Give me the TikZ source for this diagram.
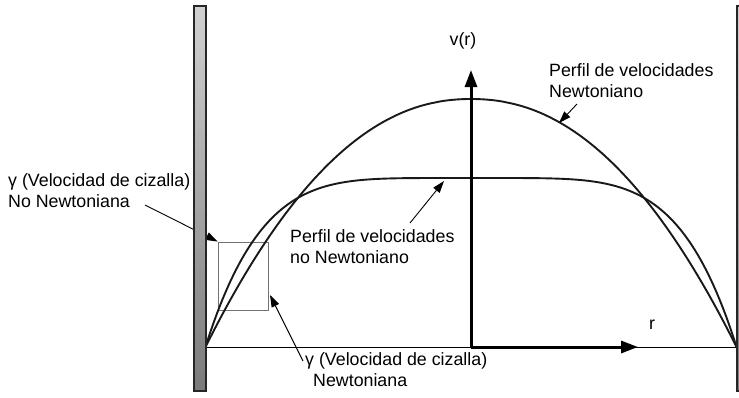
\documentclass[tikz,border=0pt]{standalone}
\usepackage{fontspec}
\setmainfont{Liberation Sans}
\usetikzlibrary{arrows.meta}
\begin{document}
\begin{tikzpicture}[x=1pt,y=-1pt,
  lbl/.style={font=\fontsize{17.8}{21}\selectfont, inner sep=0pt, align=left},
  curve/.style={line width=1.9pt, black!90},
  axis/.style={line width=3pt, -{Triangle[length=17pt,width=12pt]}},
  leader/.style={line width=0.9pt, -{Triangle[length=12pt,width=8pt]}},
  wallbox/.style={draw=black!85, line width=2pt, top color=black!18, bottom color=black!52}]
\useasboundingbox (0,0) rectangle (739,397);
\clip (0,0) rectangle (739,397);
% coordinates
\coordinate (L) at (206,347);
\coordinate (R) at (737,347);
\coordinate (O) at (471,347);
\coordinate (Vtip) at (471,70);
\coordinate (Rtip) at (638,347);
% baseline
\draw[line width=0.9pt] (L) -- (R);
% slope box
\node[draw=black!55, line width=1.3pt, minimum width=50pt, minimum height=68pt, inner sep=0pt] (box) at (243.3,276.2) {};
% curves
\draw[curve] plot[domain=-1:1, samples=121, smooth] ({471+265.5*\x}, {347-248*(1-abs(\x)^2.15)});
\draw[curve] plot[domain=-1:1, samples=161, smooth] ({471+265.5*\x}, {347-169*(1-abs(\x)^5)});
% axes
\draw[axis] (O) -- (Vtip);
\draw[axis] (O) -- (Rtip);
\node[lbl] (vr) at (463,41) {v(r)};
\node[lbl] (rl) at (652,325) {r};
% labels
\node[lbl, anchor=west] (gnn) at (8,191) {γ (Velocidad de cizalla)\\No Newtoniana};
\node[lbl, anchor=west] (gn) at (305,370) {γ (Velocidad de cizalla)\\\hspace*{8pt}Newtoniana};
\node[lbl, anchor=west] (pnn) at (290,247) {Perfil de velocidades\\no Newtoniano};
\node[lbl, anchor=west] (pn) at (549,81) {Perfil de velocidades\\Newtoniano};
% leaders
\coordinate (a1s) at (145,205);
\draw[leader] (a1s) -- (box.north west);
\coordinate (a2s) at (303,361);
\coordinate (a2e) at (270,295);
\draw[leader] (a2s) -- (a2e);
\coordinate (a3s) at (410,223);
\coordinate (a3e) at (444,181);
\draw[leader] (a3s) -- (a3e);
\coordinate (a4s) at (577,104);
\coordinate (a4e) at (559,123);
\draw[leader] (a4s) -- (a4e);
% walls
\draw[wallbox] (194,6) rectangle (206,391);
\draw[wallbox] (736.5,6) rectangle (750,391);
\end{tikzpicture}
\end{document}
